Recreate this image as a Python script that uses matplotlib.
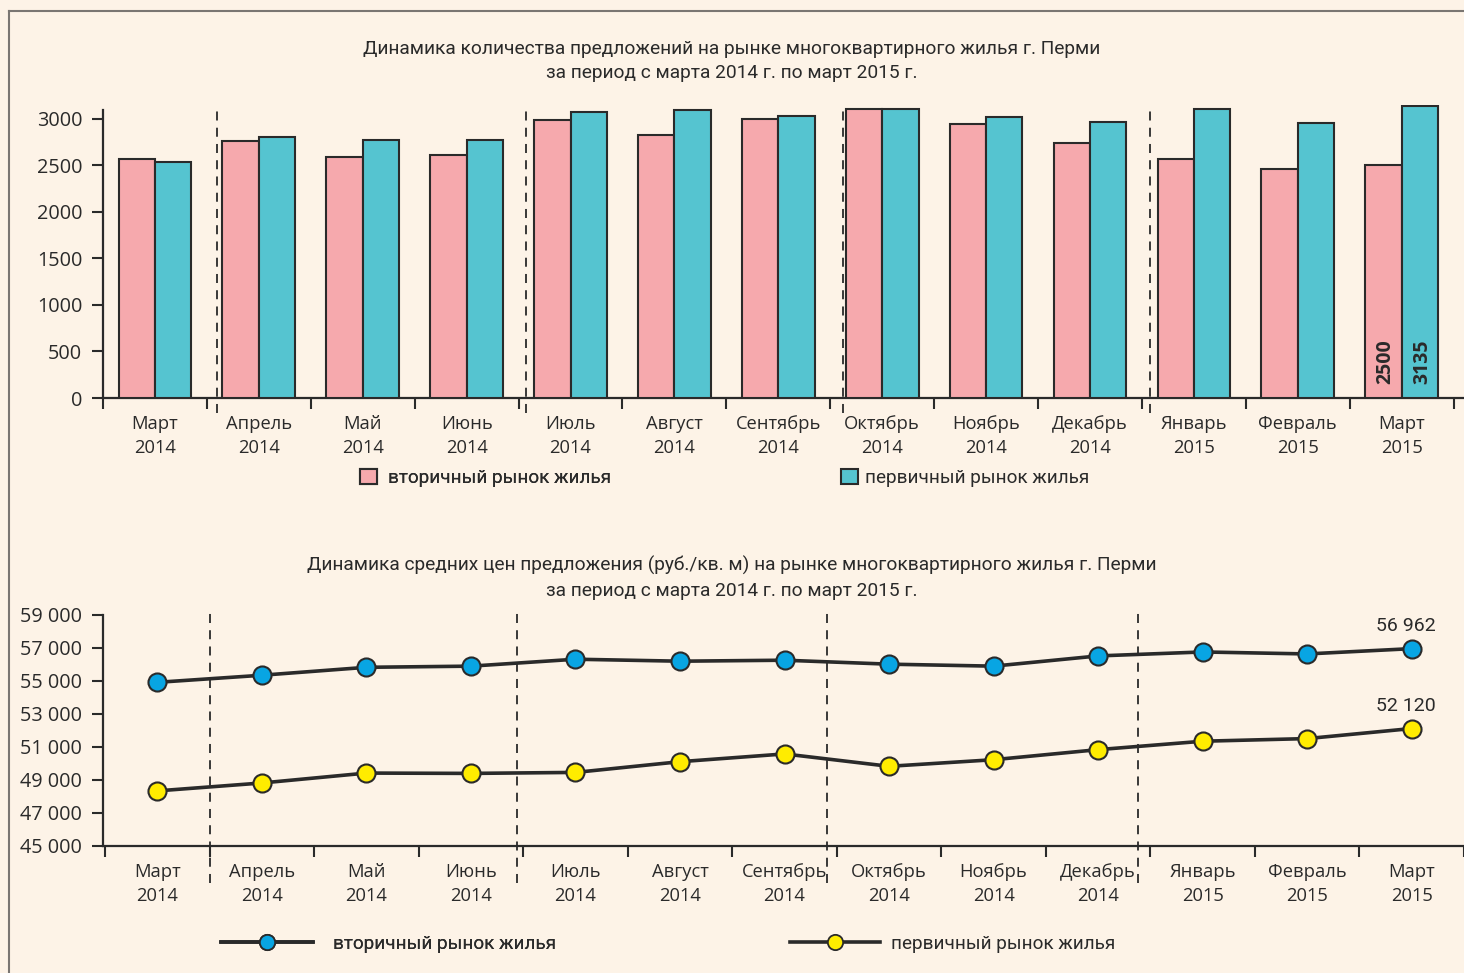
import matplotlib
matplotlib.use("Agg")
import matplotlib.pyplot as plt
from matplotlib.lines import Line2D
from matplotlib.patches import Patch
from matplotlib import font_manager

# ---------------- data ----------------
months = ["Март\n2014", "Апрель\n2014", "Май\n2014", "Июнь\n2014", "Июль\n2014",
          "Август\n2014", "Сентябрь\n2014", "Октябрь\n2014", "Ноябрь\n2014",
          "Декабрь\n2014", "Январь\n2015", "Февраль\n2015", "Март\n2015"]

offers_secondary = [2570, 2765, 2590, 2615, 2990, 2830, 3000, 3110, 2945, 2745, 2570, 2465, 2500]
offers_primary = [2540, 2805, 2775, 2775, 3075, 3095, 3035, 3110, 3025, 2970, 3110, 2960, 3135]

price_secondary = [54920, 55350, 55830, 55900, 56320, 56200, 56260, 56020, 55900, 56520, 56760, 56640, 56962]
price_primary = [48340, 48820, 49420, 49400, 49460, 50110, 50580, 49830, 50230, 50840, 51350, 51510, 52120]

bar_yticks = [0, 500, 1000, 1500, 2000, 2500, 3000]
price_yticks = [45000, 47000, 49000, 51000, 53000, 55000, 57000, 59000]
price_ytick_labels = ["45 000", "47 000", "49 000", "51 000", "53 000", "55 000", "57 000", "59 000"]

title_top = ("Динамика количества предложений на рынке многоквартирного жилья г. Перми\n"
             "за период с марта 2014 г. по март 2015 г.")
title_bottom = ("Динамика средних цен предложения (руб./кв. м) на рынке многоквартирного жилья г. Перми\n"
                "за период с марта 2014 г. по март 2015 г.")
label_secondary = "вторичный рынок жилья"
label_primary = "первичный рынок жилья"

quarter_lines_top = [0.6, 3.57, 6.62, 9.58]
quarter_lines_bottom = [0.5, 3.44, 6.41, 9.38]

# ---------------- style ----------------
BG = "#FDF3E7"
DARK = "#2a2a2a"
PINK = "#F6A9AD"
TEAL = "#55C4D0"
BLUE = "#08A5E3"
YELLOW = "#FFEC00"

avail = {f.name for f in font_manager.fontManager.ttflist}
narrow = [f for f in ["Liberation Sans Narrow", "Roboto", "DejaVu Sans"] if f in avail]
tickfont = [f for f in ["Open Sans", "DejaVu Sans"] if f in avail]

plt.rcParams['font.family'] = tickfont
plt.rcParams['text.color'] = DARK
plt.rcParams['axes.edgecolor'] = DARK
plt.rcParams['xtick.color'] = DARK
plt.rcParams['ytick.color'] = DARK

W, H = 1464, 973
fig = plt.figure(figsize=(W / 100, H / 100), dpi=100, facecolor=BG)


def fx(px):
    return px / W


def fy(py):
    return 1 - py / H


# frame
fig.add_artist(Line2D([fx(9), 1.0], [fy(11), fy(11)], color="#7a7672", lw=1.5, transform=fig.transFigure))
fig.add_artist(Line2D([fx(9), fx(9)], [fy(11), 0.0], color="#7a7672", lw=1.5, transform=fig.transFigure))

x = list(range(len(months)))


def style_axes(ax, xmin, xmax):
    ax.set_facecolor("none")
    for s in ["top", "right"]:
        ax.spines[s].set_visible(False)
    for s in ["left", "bottom"]:
        ax.spines[s].set_linewidth(1.6)
        ax.spines[s].set_color(DARK)
    ax.set_xlim(xmin, xmax)
    ax.set_xticks([i - 0.5 for i in range(len(months) + 1)])
    ax.set_xticklabels([])
    ax.set_xticks(x, minor=True)
    ax.set_xticklabels(months, minor=True, fontsize=13.2, linespacing=1.45)
    ax.tick_params(axis="x", which="major", length=8, width=1.5, direction="out")
    ax.tick_params(axis="x", which="minor", length=0, pad=12)
    ax.tick_params(axis="y", length=8, width=1.5, direction="out", pad=7, labelsize=14.3)


LEGFONT = font_manager.FontProperties(family=narrow, size=13.6)

# ---------------- top: bars ----------------
ax1 = fig.add_axes([fx(103), fy(398), fx(1464) - fx(103), (398 - 105) / H])
style_axes(ax1, -0.5, 12.6)
bw = 0.35
ax1.bar([i - bw / 2 for i in x], offers_secondary, width=bw, color=PINK, edgecolor=DARK, linewidth=1.5, zorder=3)
ax1.bar([i + bw / 2 for i in x], offers_primary, width=bw, color=TEAL, edgecolor=DARK, linewidth=1.5, zorder=3)
ax1.set_ylim(0, 3150)
ax1.spines["left"].set_bounds(0, 3100)
ax1.set_yticks(bar_yticks)
ax1.set_yticklabels([str(v) for v in bar_yticks])
for xv in quarter_lines_top:
    ax1.axvline(xv, ymin=-0.05, ymax=0.99, color=DARK, lw=1.3, ls=(0, (5, 4)), clip_on=False, zorder=4)

last = len(months) - 1
ax1.text(last - bw / 2 + 0.02, 150, f"{offers_secondary[last]}", rotation=90, ha="center", va="bottom",
         fontsize=14, fontweight="bold", zorder=5)
ax1.text(last + bw / 2 + 0.02, 150, f"{offers_primary[last]}", rotation=90, ha="center", va="bottom",
         fontsize=14, fontweight="bold", zorder=5)

fig.text(0.5, fy(61), title_top, ha="center", va="center", fontsize=13.8, family=narrow, linespacing=1.45)

leg1 = fig.legend(handles=[Patch(facecolor=PINK, edgecolor=DARK, linewidth=1.5, label=label_secondary)],
                  loc="center left", bbox_to_anchor=(fx(360), fy(478)), frameon=False, borderpad=0,
                  borderaxespad=0, handlelength=0.88, handleheight=0.88, handletextpad=0.6, prop=LEGFONT)
leg2 = fig.legend(handles=[Patch(facecolor=TEAL, edgecolor=DARK, linewidth=1.5, label=label_primary)],
                  loc="center left", bbox_to_anchor=(fx(841), fy(478)), frameon=False, borderpad=0,
                  borderaxespad=0, handlelength=0.88, handleheight=0.88, handletextpad=0.4, prop=LEGFONT)
fig.add_artist(leg1)

# ---------------- bottom: lines ----------------
ax2 = fig.add_axes([fx(103), fy(846), fx(1464) - fx(103), (846 - 615) / H])
style_axes(ax2, -0.52, 12.48)
ax2.set_ylim(45000, 59000)
ax2.set_yticks(price_yticks)
ax2.set_yticklabels(price_ytick_labels)
ax2.plot(x, price_secondary, color=DARK, lw=2.6, marker="o", markersize=13, markerfacecolor=BLUE,
         markeredgecolor=DARK, markeredgewidth=1.5, zorder=4, clip_on=False)
ax2.plot(x, price_primary, color=DARK, lw=2.6, marker="o", markersize=13, markerfacecolor=YELLOW,
         markeredgecolor=DARK, markeredgewidth=1.5, zorder=4, clip_on=False)
for xv in quarter_lines_bottom:
    ax2.axvline(xv, ymin=-0.16, ymax=1.03, color=DARK, lw=1.3, ls=(0, (5, 4)), clip_on=False, zorder=3)

ax2.annotate(f"{price_secondary[last]:,}".replace(",", " "), (last, price_secondary[last]),
             xytext=(-4, 16), textcoords="offset points", ha="center", va="center",
             fontsize=14, family=narrow)
ax2.annotate(f"{price_primary[last]:,}".replace(",", " "), (last, price_primary[last]),
             xytext=(-4, 16), textcoords="offset points", ha="center", va="center",
             fontsize=14, family=narrow)

fig.text(0.5, fy(578), title_bottom, ha="center", va="center", fontsize=13.8, family=narrow, linespacing=1.45)

h1 = Line2D([], [], color=DARK, lw=2.6, marker="o", markersize=11, markerfacecolor=BLUE,
            markeredgecolor=DARK, markeredgewidth=1.3)
h2 = Line2D([], [], color=DARK, lw=2.6, marker="o", markersize=11, markerfacecolor=YELLOW,
            markeredgecolor=DARK, markeredgewidth=1.3)
leg3 = fig.legend(handles=[h1], labels=[label_secondary], loc="center left",
                  bbox_to_anchor=(fx(221), fy(944)), frameon=False, borderpad=0, borderaxespad=0,
                  numpoints=1, handlelength=4.87, handletextpad=1.06, prop=LEGFONT)
leg4 = fig.legend(handles=[h2], labels=[label_primary], loc="center left",
                  bbox_to_anchor=(fx(790), fy(944)), frameon=False, borderpad=0, borderaxespad=0,
                  numpoints=1, handlelength=4.76, handletextpad=0.58, prop=LEGFONT)
fig.add_artist(leg3)

fig.savefig("out.png", dpi=100, facecolor=BG)
